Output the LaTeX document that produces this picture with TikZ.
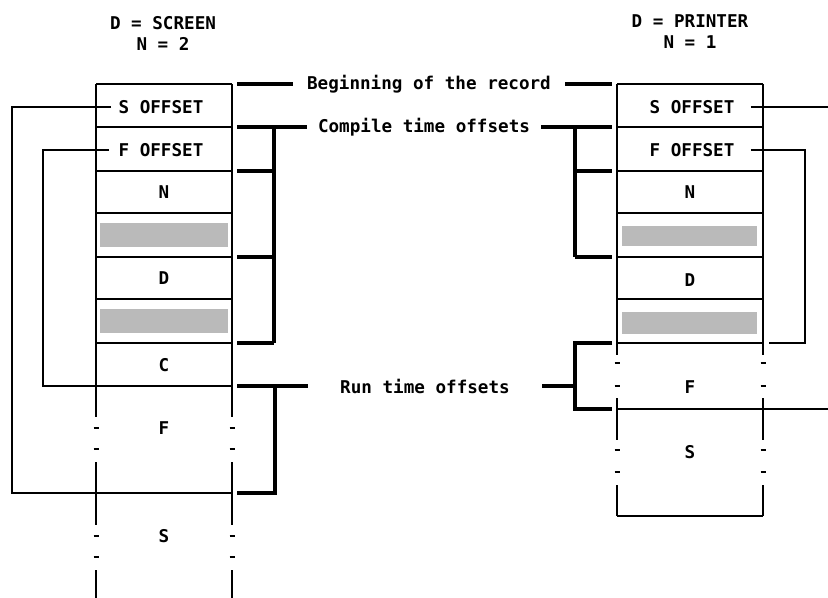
\documentclass[tikz,border=0pt]{standalone}
\usepackage{fontspec}
\setmonofont{DejaVu Sans Mono}
\begin{document}
\begin{tikzpicture}[x=0.5pt,y=-0.5pt,
    cell/.style={line width=0.8pt},
    brk/.style={line width=1.8pt},
    dotmk/.style={line width=1.1pt},
    shade/.style={fill=black!27},
    lbl/.style={font=\fontsize{8.8}{10.5}\selectfont\ttfamily\bfseries, inner sep=1pt}]
        \useasboundingbox (0,0) rectangle (828,598);

        % Titles
        \node[lbl, align=center] (tScreen) at (163,33) {D = SCREEN\\N = 2};
        \node[lbl, align=center] (tPrinter) at (690,32) {D = PRINTER\\N = 1};

        % Left record (screen)
        \foreach \y in {84,127,171,213,257,299,343}
            \draw[cell] (96,\y) -- (232,\y);
        \foreach \x in {96,232} {
            \draw[cell] (\x,84) -- (\x,417);
            \draw[cell] (\x,462) -- (\x,525);
            \draw[cell] (\x,570) -- (\x,598);
            \foreach \y in {428,449,536,557}
                \draw[dotmk] (\x-2.5,\y) -- (\x+2.5,\y);
        }
        \fill[shade] (100,223) rectangle (228,247);
        \fill[shade] (100,309) rectangle (228,333);
        \node[lbl] (sOffL) at (161,107) {S OFFSET};
        \node[lbl] (fOffL) at (161,150) {F OFFSET};
        \node[lbl] (nL) at (164,192) {N};
        \node[lbl] (dL) at (164,278) {D};
        \node[lbl] (cL) at (164,365) {C};
        \node[lbl] (fL) at (164,428) {F};
        \node[lbl] (sL) at (164,536) {S};

        % Right record (printer)
        \foreach \y in {84,127,171,213,257,299,343,516}
            \draw[cell] (617,\y) -- (763,\y);
        \foreach \x in {617,763} {
            \draw[cell] (\x,84) -- (\x,355);
            \draw[cell] (\x,398) -- (\x,440);
            \draw[cell] (\x,485) -- (\x,516);
            \foreach \y in {363,386,450,472}
                \draw[dotmk] (\x-2.5,\y) -- (\x+2.5,\y);
        }
        \fill[shade] (622,226) rectangle (757,246);
        \fill[shade] (622,312) rectangle (757,334);
        \node[lbl] (sOffR) at (692,107) {S OFFSET};
        \node[lbl] (fOffR) at (692,150) {F OFFSET};
        \node[lbl] (nR) at (690,192) {N};
        \node[lbl] (dR) at (690,280) {D};
        \node[lbl] (fR) at (690,387) {F};
        \node[lbl] (sR) at (690,452) {S};

        % Offset pointers
        \draw[cell] ([xshift=-2.5pt]sOffL.west) -| (12,493) -- (232,493);
        \draw[cell] ([xshift=-3.5pt]fOffL.west) -| (43,386) -- (232,386);
        \draw[cell] ([xshift=7pt]sOffR.east) -- (828,107);
        \draw[cell] ([xshift=7pt]fOffR.east) -| (805,343) -- (769,343);
        \draw[cell] (617,409) -- (828,409);

        % Beginning of the record
        \node[lbl, inner xsep=7pt] (begin) at (429,84) {Beginning of the record};
        \draw[brk] (237,84) -- (begin.west);
        \draw[brk] (begin.east) -- (612,84);

        % Compile time offsets
        \node[lbl, inner xsep=5.5pt] (compile) at (424,127) {Compile time offsets};
        \draw[brk] (237,127) -- (compile.west);
        \draw[brk] (compile.east) -- (612,127);
        \draw[brk] (274,127) -- (274,343);
        \foreach \y in {171,257,343}
            \draw[brk] (237,\y) -- (274,\y);
        \draw[brk] (575,127) -- (575,257);
        \foreach \y in {171,257}
            \draw[brk] (575,\y) -- (612,\y);

        % Run time offsets
        \node[lbl, inner xsep=16pt] (run) at (425,386) {Run time offsets};
        \draw[brk] (237,386) -- (run.west);
        \draw[brk] (275,386) -- (275,493) -- (237,493);
        \draw[brk] (run.east) -- (575,386);
        \draw[brk] (612,343) -- (575,343) -- (575,409) -- (612,409);
      \end{tikzpicture}
\end{document}
